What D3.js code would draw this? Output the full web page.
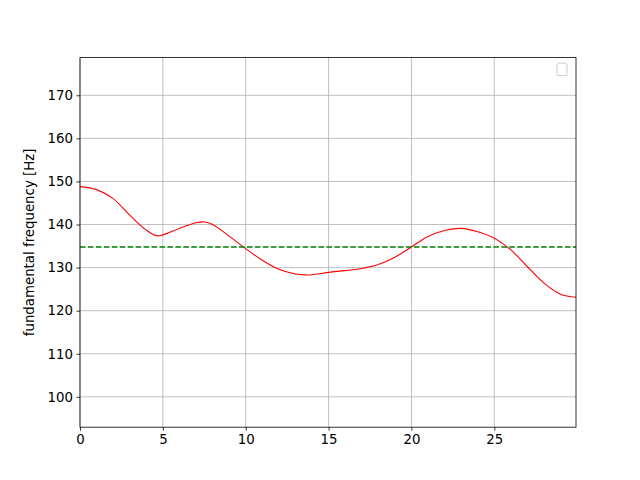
<!DOCTYPE html>
<html>
<head>
<meta charset="utf-8">
<script src="https://cdn.jsdelivr.net/npm/d3@7"></script>
<style>
  body { margin: 0; background: #fff; }
  svg { display: block; font-family: "DejaVu Sans", sans-serif; }
</style>
</head>
<body>
<div id="chart"></div>
<script>
// time axis samples and read-off fundamental frequency
var times = [0, 1, 2, 3, 4, 4.6, 5, 6, 7, 7.5, 8, 9, 10, 11, 12, 13, 13.6, 14, 15, 16, 17, 18, 19, 20, 21, 22, 23, 24, 25, 26, 27, 28, 29, 29.93];
var f0 = [148.8, 148.1, 146.0, 142.2, 138.7, 137.4, 137.6, 139.1, 140.4, 140.6, 140.0, 137.3, 134.4, 131.7, 129.6, 128.5, 128.3, 128.35, 128.9, 129.3, 129.8, 130.7, 132.4, 134.8, 137.2, 138.6, 139.1, 138.3, 136.8, 134.1, 130.2, 126.4, 123.8, 123.1];
var meanF0 = 134.8;
var xTicks = [0, 5, 10, 15, 20, 25];
var yTicks = [100, 110, 120, 130, 140, 150, 160, 170];

var margin = {top: 57.6, right: 64, bottom: 52.8, left: 80};
var width = 640 - margin.left - margin.right;
var height = 480 - margin.top - margin.bottom;

var svg = d3.select('#chart').append('svg')
	.attr('width', 640)
	.attr('height', 480);

var g = svg.append('g')
	.attr('transform', 'translate(' + margin.left + ',' + margin.top + ')');

var x = d3.scaleLinear().domain([0, 29.93]).range([0, width]);
var y = d3.scaleLinear().domain([92.95, 178.75]).range([height, 0]);

// grid
g.append('g').selectAll('line').data(xTicks).enter().append('line')
	.attr('x1', function(d) { return x(d); })
	.attr('x2', function(d) { return x(d); })
	.attr('y1', 0).attr('y2', height)
	.attr('stroke', '#b0b0b0').attr('stroke-width', 0.8);
g.append('g').selectAll('line').data(yTicks).enter().append('line')
	.attr('y1', function(d) { return y(d); })
	.attr('y2', function(d) { return y(d); })
	.attr('x1', 0).attr('x2', width)
	.attr('stroke', '#b0b0b0').attr('stroke-width', 0.8);

g.append('clipPath').attr('id', 'clip')
	.append('rect').attr('width', width).attr('height', height);

var line = d3.line()
	.x(function(d, i) { return x(times[i]); })
	.y(function(d) { return y(d); })
	.curve(d3.curveCatmullRom.alpha(0.5));

g.append('path')
	.datum(f0)
	.attr('clip-path', 'url(#clip)')
	.attr('fill', 'none')
	.attr('stroke', '#ff0000')
	.attr('stroke-width', 1.1)
	.attr('d', line);

g.append('line')
	.attr('x1', x(0)).attr('x2', x(29.93))
	.attr('y1', y(meanF0)).attr('y2', y(meanF0))
	.attr('stroke', '#008000')
	.attr('stroke-width', 1.5)
	.attr('stroke-dasharray', '5.55,2.4');

// axes
var xAxis = d3.axisBottom(x).tickValues(xTicks).tickSize(3.5).tickPadding(3.5);
var yAxis = d3.axisLeft(y).tickValues(yTicks).tickSize(3.5).tickPadding(3.5);

var gx = g.append('g').attr('transform', 'translate(0,' + height + ')').call(xAxis);
var gy = g.append('g').call(yAxis);
[gx, gy].forEach(function(a) {
	a.select('.domain').remove();
	a.selectAll('text').attr('font-size', '13.33px').attr('fill', '#000')
		.attr('font-family', '"DejaVu Sans", sans-serif');
	a.selectAll('line').attr('stroke', '#000').attr('stroke-width', 0.8);
});

g.append('rect')
	.attr('width', width).attr('height', height)
	.attr('fill', 'none').attr('stroke', '#000').attr('stroke-width', 0.8);

// empty legend frame
g.append('rect')
	.attr('x', width - 19).attr('y', 5.5)
	.attr('width', 10).attr('height', 12.5)
	.attr('rx', 2)
	.attr('fill', '#fff').attr('fill-opacity', 0.8)
	.attr('stroke', '#cccccc').attr('stroke-width', 1);

svg.append('text')
	.attr('transform', 'translate(34,' + (margin.top + height / 2) + ') rotate(-90)')
	.attr('text-anchor', 'middle')
	.attr('font-size', '13.33px')
	.text('fundamental frequency [Hz]');
</script>
</body>
</html>
